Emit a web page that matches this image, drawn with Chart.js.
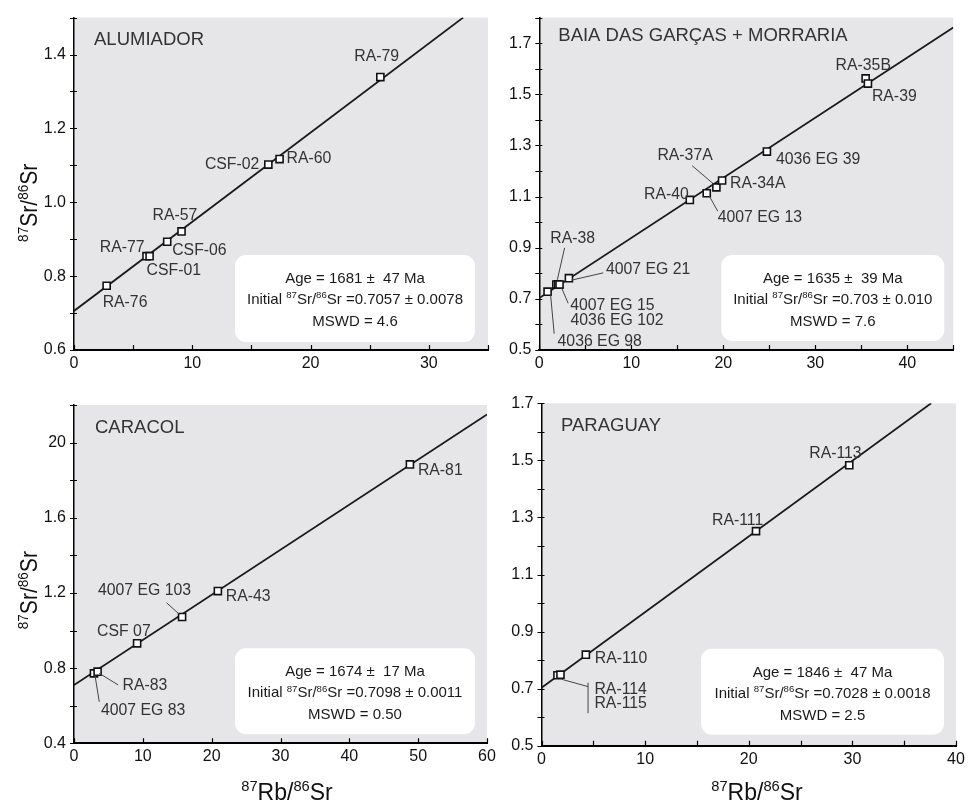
<!DOCTYPE html>
<html>
<head>
<meta charset="utf-8">
<script src="https://cdn.jsdelivr.net/npm/chart.js@4.4.1/dist/chart.umd.min.js"></script>
<style>
  body { margin: 0; background: #fff; }
  #wrap { position: relative; width: 971px; height: 807px; overflow: hidden; }
  #wrap canvas { position: absolute; left: 0; top: 0; }
</style>
</head>
<body>
<div id="wrap">
  <canvas id="c1" width="971" height="807"></canvas>
  <canvas id="c2" width="971" height="807"></canvas>
  <canvas id="c3" width="971" height="807"></canvas>
  <canvas id="c4" width="971" height="807"></canvas>
</div>
<script>
// ---- data ----
// Alumiador
const alumNames = ['RA-76', 'RA-77', 'CSF-01', 'CSF-06', 'RA-57', 'CSF-02', 'RA-60', 'RA-79'];
const alumRb = [2.76, 6.13, 6.39, 7.88, 9.09, 16.43, 17.38, 25.9];
const alumSr = [0.774, 0.854, 0.854, 0.893, 0.921, 1.102, 1.117, 1.339];
const alumLineRb = [0, 32.9];
const alumLineSr = [0.7057, 1.5];
const alumInfo = ['1681 \u00b1  47 Ma', '=0.7057 \u00b1 0.0078', '4.6'];

// Baia das Garcas + Morraria
const baiaNames = ['4036 EG 98', 'RA-38', '4007 EG 15', '4036 EG 102', '4007 EG 21', 'RA-40',
  '4007 EG 13', 'RA-37A', 'RA-34A', '4036 EG 39', 'RA-35B', 'RA-39'];
const baiaRb = [0.9, 1.85, 2.05, 2.2, 3.22, 16.36, 18.2, 19.25, 19.87, 24.74, 35.47, 35.72];
const baiaSr = [0.728, 0.756, 0.757, 0.756, 0.781, 1.087, 1.113, 1.136, 1.163, 1.276, 1.562, 1.542];
const baiaLineRb = [0, 45];
const baiaLineSr = [0.703, 1.761];
const baiaInfo = ['1635 \u00b1  39 Ma', '=0.703 \u00b1 0.010', '7.6'];

// Caracol
const caraNames = ['4007 EG 83', 'RA-83', 'CSF 07', '4007 EG 103', 'RA-43', 'RA-81'];
const caraRb = [2.9, 3.43, 9.17, 15.7, 20.9, 48.8];
const caraSr = [0.772, 0.781, 0.932, 1.072, 1.21, 1.884];
const caraLineRb = [0, 60];
const caraLineSr = [0.7098, 2.15];
const caraInfo = ['1674 \u00b1  17 Ma', '=0.7098 \u00b1 0.0011', '0.50'];

// Paraguay
const paraNames = ['RA-114', 'RA-115', 'RA-110', 'RA-111', 'RA-113'];
const paraRb = [1.54, 1.83, 4.28, 20.7, 29.7];
const paraSr = [0.747, 0.749, 0.819, 1.252, 1.483];
const paraLineRb = [0, 37.6];
const paraLineSr = [0.7028, 1.7];
const paraInfo = ['1846 \u00b1  47 Ma', '=0.7028 \u00b1 0.0018', '2.5'];

// tick labels
const xTicks35 = [0, 10, 20, 30];
const xTicks40 = [0, 10, 20, 30, 40];
const xTicks60 = [0, 10, 20, 30, 40, 50, 60];
const alumYTicks = [0.6, 0.8, 1.0, 1.2, 1.4];
const alumYLabels = ['0.6', '0.8', '1.0', '1.2', '1.4'];
const baiaYTicks = [0.5, 0.7, 0.9, 1.1, 1.3, 1.5, 1.7];
const baiaYLabels = ['0.5', '0.7', '0.9', '1.1', '1.3', '1.5', '1.7'];
const caraYTicks = [0.4, 0.8, 1.2, 1.6, 2.0];
const caraYLabels = ['0.4', '0.8', '1.2', '1.6', '20'];
const paraYTicks = [0.5, 0.7, 0.9, 1.1, 1.3, 1.5, 1.7];
const paraYLabels = ['0.5', '0.7', '0.9', '1.1', '1.3', '1.5', '1.7'];

// ---- label placement (pixel offsets from each point) ----
const alumPlace = [[-4, 17, 'left'], [-2, -9, 'right'], [-3, 14, 'left'], [5, 9, 'left'],
  [-29, -16, 'left'], [-9, 0, 'right'], [7, 0, 'left'], [-26, -20, 'left']];
const baiaPlace = [[10, 50, 'left'], [-6, -46, 'left'], [12, 21, 'left'], [11, 36, 'left'],
  [37, -9, 'left'], [-1, -5, 'right'], [11, 24, 'left'], [-59, -32, 'left'], [8, 3, 'left'],
  [9, 8, 'left'], [-30, -13, 'left'], [4, 13, 'left']];
const caraPlace = [[7, 37, 'left'], [25, 14, 'left'], [-40, -12, 'left'], [9, -26, 'right'],
  [8, 6, 'left'], [8, 6, 'left']];
const paraPlace = [[37, 14, 'left'], [34, 29, 'left'], [9, 4, 'left'], [-44, -10, 'left'], [-40, -12, 'left']];

const baiaLeaders = [[0, 3, 3, 6.6, 42], [1, 1, -4.7, 8.3, -36.7], [2, 3.3, 3.3, 10, 19],
  [4, 2.7, 2, 34.3, -5.3], [6, 2.7, 3, 11, 18], [7, -2, -2.7, -24.3, -21.7]];
const caraLeaders = [[0, 1, 1.7, 5.3, 28.4], [1, 1.6, 1.6, 20.6, 13.3], [3, -2.7, -2.7, -15.6, -14.3]];
const paraLeaders = [[0, 4, 4, 30.6, 11.4], [0, 30.6, 7.4, 30.6, 38]];

const FONT = '"Liberation Sans", Arial, Helvetica, sans-serif';
const font = (s) => s + 'px ' + FONT;

function drawRich(ctx, parts, x, y, size, align) {
  let w = 0;
  parts.forEach(([t, sup]) => { ctx.font = font(sup ? size * 0.64 : size); w += ctx.measureText(t).width; });
  let cx = align === 'center' ? x - w / 2 : x;
  ctx.textAlign = 'left';
  ctx.textBaseline = 'alphabetic';
  parts.forEach(([t, sup]) => {
    ctx.font = font(sup ? size * 0.64 : size);
    ctx.fillText(t, cx, sup ? y - size * 0.38 : y);
    cx += ctx.measureText(t).width;
  });
}

function makePlugin(p) {
  return {
    id: 'panel_' + p.id,
    beforeDraw(chart) {
      const { ctx, chartArea: a } = chart;
      ctx.save();
      ctx.fillStyle = '#e6e6e8';
      ctx.fillRect(a.left, a.top, a.right - a.left, a.bottom - a.top);
      ctx.restore();
    },
    afterDraw(chart) {
      const { ctx, chartArea: a } = chart;
      const xs = chart.scales.x, ys = chart.scales.y;
      ctx.save();
      // tick marks: inward on x, crossing on y
      ctx.strokeStyle = '#000';
      ctx.lineWidth = 1.2;
      ctx.beginPath();
      xs.ticks.forEach(t => {
        const px = Math.round(xs.getPixelForValue(t.value)) + 0.5;
        ctx.moveTo(px, a.bottom); ctx.lineTo(px, a.bottom - 5);
      });
      ys.ticks.forEach(t => {
        const py = Math.round(ys.getPixelForValue(t.value)) + 0.5;
        ctx.moveTo(a.left - 4, py); ctx.lineTo(a.left + 3, py);
      });
      ctx.stroke();

      // leader lines
      ctx.strokeStyle = '#444';
      ctx.lineWidth = 1;
      ctx.beginPath();
      p.leaders.forEach(([i, x1, y1, x2, y2]) => {
        const px = xs.getPixelForValue(p.rb[i]), py = ys.getPixelForValue(p.sr[i]);
        ctx.moveTo(px + x1, py + y1); ctx.lineTo(px + x2, py + y2);
      });
      ctx.stroke();

      // point labels
      ctx.fillStyle = '#333';
      ctx.font = font(15.8);
      ctx.textBaseline = 'middle';
      p.names.forEach((n, i) => {
        const [dx, dy, al] = p.place[i];
        ctx.textAlign = al;
        ctx.fillText(n, xs.getPixelForValue(p.rb[i]) + dx, ys.getPixelForValue(p.sr[i]) + dy);
      });

      // panel title
      ctx.fillStyle = '#333';
      ctx.font = font(18.5);
      ctx.textAlign = 'left';
      ctx.fillText(p.title, a.left + p.titleAt[0], a.top + p.titleAt[1]);

      // info box
      const [br, bb, bw, bh] = p.box;
      const bx = a.right - br - bw, by = a.bottom - bb - bh;
      ctx.fillStyle = '#fff';
      ctx.beginPath();
      ctx.roundRect(bx, by, bw, bh, 11);
      ctx.fill();
      ctx.fillStyle = '#1a1a1a';
      const cx = bx + bw / 2;
      ctx.textAlign = 'center';
      ctx.textBaseline = 'alphabetic';
      ctx.font = font(15);
      ctx.fillText('Age = ' + p.info[0], cx, by + 28);
      drawRich(ctx, [['Initial ', false], ['87', true], ['Sr/', false], ['86', true], ['Sr ' + p.info[1], false]], cx, by + 49, 15, 'center');
      ctx.font = font(15);
      ctx.textAlign = 'center';
      ctx.fillText('MSWD = ' + p.info[2], cx, by + 71);

      // axis titles
      ctx.fillStyle = '#111';
      if (p.yTitle) {
        ctx.save();
        ctx.translate(37, (a.top + a.bottom) / 2 + p.yTitleShift);
        ctx.rotate(-Math.PI / 2);
        ctx.scale(0.88, 1);
        drawRich(ctx, [['87', true], ['Sr/', false], ['86', true], ['Sr', false]], 0, 0, 24, 'center');
        ctx.restore();
      }
      if (p.xTitle) {
        drawRich(ctx, [['87', true], ['Rb/', false], ['86', true], ['Sr', false]], p.xTitle, 800, 23, 'center');
      }
      ctx.restore();
    }
  };
}

const panels = [
  { id: 'c1', title: 'ALUMIADOR', names: alumNames, rb: alumRb, sr: alumSr, lineRb: alumLineRb, lineSr: alumLineSr,
    info: alumInfo, place: alumPlace, leaders: [], area: [74, 8, 488, 350], titleAt: [20, 22],
    xMin: 0, xMax: 35, xStep: 5, xTicks: xTicks35, yMin: 0.6, yMax: 1.5, yStep: 0.1,
    yTicks: alumYTicks, yLabels: alumYLabels, box: [13, 8, 240, 87], yTitle: true, yTitleShift: 19, xTitle: 0 },
  { id: 'c2', title: 'BAIA DAS GAR\u00c7AS + MORRARIA', names: baiaNames, rb: baiaRb, sr: baiaSr,
    lineRb: baiaLineRb, lineSr: baiaLineSr, info: baiaInfo, place: baiaPlace, leaders: baiaLeaders,
    area: [539.3, 8, 953.3, 350], titleAt: [19, 18],
    xMin: 0, xMax: 45, xStep: 5, xTicks: xTicks40, yMin: 0.5, yMax: 1.8, yStep: 0.1,
    yTicks: baiaYTicks, yLabels: baiaYLabels, box: [9, 9, 223, 86], yTitle: false, xTitle: 0 },
  { id: 'c3', title: 'CARACOL', names: caraNames, rb: caraRb, sr: caraSr, lineRb: caraLineRb, lineSr: caraLineSr,
    info: caraInfo, place: caraPlace, leaders: caraLeaders, area: [74, 405, 487, 743.3], titleAt: [21, 23],
    xMin: 0, xMax: 60, xStep: 10, xTicks: xTicks60, yMin: 0.4, yMax: 2.2, yStep: 0.2,
    yTicks: caraYTicks, yLabels: caraYLabels, box: [12, 9, 240, 86], yTitle: true, yTitleShift: 16, xTitle: 287 },
  { id: 'c4', title: 'PARAGUAY', names: paraNames, rb: paraRb, sr: paraSr, lineRb: paraLineRb, lineSr: paraLineSr,
    info: paraInfo, place: paraPlace, leaders: paraLeaders, area: [541.5, 403.3, 956, 745.7], titleAt: [19.5, 23],
    xMin: 0, xMax: 40, xStep: 5, xTicks: xTicks40, yMin: 0.5, yMax: 1.7, yStep: 0.1,
    yTicks: paraYTicks, yLabels: paraYLabels, box: [12, 11, 243, 86], yTitle: false, xTitle: 757 }
];

const match = (vals, labels, v) => {
  const i = vals.findIndex(t => Math.abs(t - v) < 1e-6);
  return i >= 0 ? labels[i] : '';
};

panels.forEach(p => {
  const [l, t, r, b] = p.area;
  new Chart(document.getElementById(p.id), {
    type: 'scatter',
    data: {
      datasets: [
        {
          type: 'line',
          data: p.lineRb.map((x, i) => ({ x: x, y: p.lineSr[i] })),
          borderColor: '#1a1a1a',
          borderWidth: 1.8,
          pointRadius: 0,
          fill: false,
          order: 2
        },
        {
          data: p.rb.map((x, i) => ({ x: x, y: p.sr[i] })),
          pointStyle: 'rect',
          pointRadius: 5,
          backgroundColor: '#fff',
          borderColor: '#111',
          borderWidth: 1.6,
          order: 1
        }
      ]
    },
    options: {
      responsive: false,
      animation: false,
      events: [],
      layout: { padding: { left: l - 60, top: t, right: 971 - r, bottom: 807 - b - 40 } },
      plugins: { legend: { display: false }, tooltip: { enabled: false } },
      scales: {
        x: {
          type: 'linear', min: p.xMin, max: p.xMax,
          ticks: {
            stepSize: p.xStep, autoSkip: false, maxRotation: 0, padding: 4,
            color: '#111', font: { family: FONT, size: 16 },
            callback: v => match(p.xTicks, p.xTicks.map(String), v)
          },
          grid: { display: false, drawTicks: false },
          border: { color: '#000', width: 2 },
          afterFit: s => { s.height = 40; }
        },
        y: {
          type: 'linear', min: p.yMin, max: p.yMax,
          ticks: {
            stepSize: p.yStep, autoSkip: false, padding: 8,
            color: '#111', font: { family: FONT, size: 16 },
            callback: v => match(p.yTicks, p.yLabels, v)
          },
          grid: { display: false, drawTicks: false },
          border: { color: '#000', width: 1.5 },
          afterFit: s => { s.width = 60; }
        }
      }
    },
    plugins: [makePlugin(p)]
  });
});
</script>
</body>
</html>
